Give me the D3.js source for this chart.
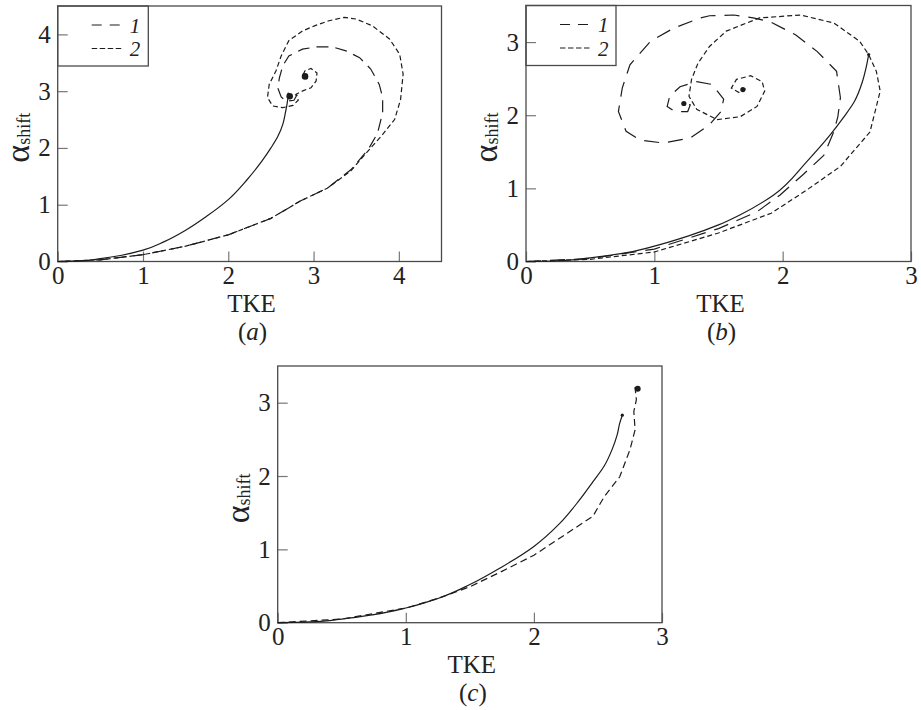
<!DOCTYPE html>
<html>
<head>
<meta charset="utf-8">
<script src="https://cdn.jsdelivr.net/npm/d3@7"></script>
<style>
    html, body { margin: 0; padding: 0; background: #fff; }
    svg { display: block; font-family: 'Liberation Serif', 'Times New Roman', Times, serif; }
</style>
</head>
<body>
<script>
// values, [TKE, alpha_shift]
var aSolid = [[0, 0], [0.25, 0.01], [0.5, 0.05], [0.75, 0.11], [1.0, 0.20], [1.25, 0.35], [1.5, 0.55],
    [1.75, 0.80], [2.0, 1.09], [2.22, 1.44], [2.40, 1.78], [2.50, 2.00], [2.58, 2.20], [2.64, 2.42],
    [2.67, 2.62], [2.69, 2.78], [2.70, 2.87], [2.72, 2.91]];
var aCurve1 = [[0, 0], [0.5, 0.03], [1.0, 0.12], [1.5, 0.27], [2.0, 0.47], [2.5, 0.76], [2.85, 1.07],
    [3.16, 1.29], [3.44, 1.62], [3.64, 1.97], [3.75, 2.26], [3.81, 2.62], [3.81, 2.89], [3.77, 3.12],
    [3.67, 3.39], [3.54, 3.59], [3.38, 3.71], [3.22, 3.78], [3.03, 3.78], [2.87, 3.74], [2.71, 3.62],
    [2.64, 3.45], [2.60, 3.24], [2.58, 3.06], [2.62, 2.90], [2.68, 2.82], [2.77, 2.84], [2.80, 2.92],
    [2.76, 2.98], [2.70, 2.96], [2.70, 2.91], [2.72, 2.91]];
var aCurve2 = [[0, 0], [0.5, 0.03], [1.0, 0.12], [1.5, 0.27], [2.0, 0.47], [2.5, 0.76], [2.85, 1.07],
    [3.16, 1.29], [3.44, 1.60], [3.64, 1.95], [3.79, 2.20], [3.95, 2.50], [4.02, 2.85], [4.05, 3.30],
    [4.01, 3.65], [3.89, 3.92], [3.69, 4.15], [3.50, 4.27], [3.36, 4.30], [3.18, 4.24], [3.01, 4.15],
    [2.87, 4.06], [2.71, 3.89], [2.62, 3.62], [2.56, 3.36], [2.48, 3.12], [2.46, 2.89], [2.52, 2.74],
    [2.64, 2.71], [2.76, 2.75], [2.82, 2.84], [2.80, 2.95], [2.88, 3.01], [2.97, 3.06], [3.03, 3.18],
    [3.04, 3.32], [2.97, 3.40], [2.90, 3.36], [2.87, 3.27], [2.92, 3.22], [2.94, 3.28], [2.90, 3.26]];
var aBlobs = [[2.90, 3.26], [2.72, 2.91]];
var aTicksX = [0, 1, 2, 3, 4];
var aTicksY = [0, 1, 2, 3, 4];

var bSolid = [[0, 0], [0.25, 0.01], [0.5, 0.05], [0.75, 0.11], [1.0, 0.21], [1.25, 0.34], [1.5, 0.50],
    [1.67, 0.64], [1.93, 0.91], [2.19, 1.37], [2.37, 1.73], [2.47, 1.96], [2.56, 2.19], [2.62, 2.45],
    [2.65, 2.65], [2.67, 2.83]];
var bCurve1 = [[0, 0], [0.5, 0.04], [1.0, 0.17], [1.5, 0.45], [1.80, 0.68], [1.98, 0.91], [2.16, 1.19],
    [2.32, 1.45], [2.40, 1.78], [2.43, 1.98], [2.45, 2.24], [2.42, 2.60], [2.27, 2.87], [2.10, 3.10],
    [1.90, 3.28], [1.77, 3.33], [1.62, 3.37], [1.43, 3.36], [1.36, 3.33], [1.15, 3.19], [0.97, 3.01],
    [0.81, 2.69], [0.75, 2.37], [0.72, 2.05], [0.78, 1.78], [0.89, 1.66], [1.07, 1.62], [1.28, 1.69],
    [1.43, 1.87], [1.52, 2.05], [1.54, 2.22], [1.45, 2.42], [1.33, 2.46], [1.20, 2.39], [1.12, 2.26],
    [1.10, 2.12], [1.16, 2.05], [1.26, 2.05], [1.28, 2.14], [1.22, 2.17], [1.24, 2.16]];
var bCurve2 = [[0, 0], [0.5, 0.03], [1.0, 0.13], [1.5, 0.39], [1.91, 0.66], [2.19, 0.98], [2.45, 1.30],
    [2.68, 1.77], [2.72, 2.05], [2.76, 2.33], [2.73, 2.60], [2.67, 2.83], [2.60, 3.01], [2.40, 3.26],
    [2.14, 3.37], [1.82, 3.33], [1.56, 3.15], [1.43, 2.94], [1.34, 2.71], [1.29, 2.49], [1.27, 2.26],
    [1.33, 2.08], [1.49, 1.94], [1.67, 1.98], [1.80, 2.12], [1.86, 2.33], [1.84, 2.46], [1.75, 2.54],
    [1.64, 2.49], [1.60, 2.37], [1.66, 2.31], [1.71, 2.36], [1.69, 2.35]];
var bBlobs = [[1.69, 2.35], [1.23, 2.16]];
var bTicksX = [0, 1, 2, 3];
var bTicksY = [0, 1, 2, 3];

var cSolid = [[0, 0], [0.25, 0.01], [0.5, 0.05], [0.75, 0.11], [1.0, 0.20], [1.25, 0.33], [1.5, 0.52],
    [1.75, 0.76], [2.0, 1.04], [2.2, 1.35], [2.35, 1.66], [2.46, 1.92], [2.55, 2.14], [2.61, 2.36],
    [2.65, 2.56], [2.67, 2.72], [2.69, 2.83]];
var cCurve = [[0, 0], [0.5, 0.05], [1.0, 0.20], [1.25, 0.33], [1.5, 0.49], [1.75, 0.70], [2.0, 0.92],
    [2.26, 1.22], [2.46, 1.45], [2.55, 1.72], [2.67, 1.99], [2.75, 2.36], [2.79, 2.63], [2.78, 2.88],
    [2.80, 3.04], [2.79, 3.20], [2.81, 3.18]];
var cBlobs = [[2.81, 3.19]];
var cTicksX = [0, 1, 2, 3];
var cTicksY = [0, 1, 2, 3];

var legendLabels = ['1', '2'];

var ink = '#1c1c1c',
    frameColor = '#4a4a4a',
    longDash = '12,7',
    shortDash = '5,3';

var svg = d3.select('body').append('svg')
    .attr('width', 921)
    .attr('height', 710);

svg.append('rect').attr('width', 921).attr('height', 710).attr('fill', '#fff');

function drawPanel(p) {
    var g = svg.append('g'),
        x = d3.scaleLinear().domain(p.xDomain).range([p.left, p.right]),
        y = d3.scaleLinear().domain(p.yDomain).range([p.bottom, p.top]);

    var xAxis = g.append('g')
        .attr('transform', 'translate(0,' + p.bottom + ')')
        .call(d3.axisBottom(x).tickValues(p.xTicks).tickFormat(d3.format('d'))
            .tickSizeInner(-10).tickSizeOuter(0).tickPadding(5));
    var yAxis = g.append('g')
        .attr('transform', 'translate(' + p.left + ',0)')
        .call(d3.axisLeft(y).tickValues(p.yTicks).tickFormat(d3.format('d'))
            .tickSizeInner(-10).tickSizeOuter(0).tickPadding(7));

    [xAxis, yAxis].forEach(function(ax) {
        ax.select('.domain').remove();
        ax.selectAll('.tick line').attr('stroke', '#777').attr('stroke-width', 1.2);
        ax.selectAll('.tick text')
            .attr('fill', '#222')
            .style('font-family', "'Liberation Serif', 'Times New Roman', Times, serif")
            .style('font-size', '25px');
    });

    g.append('rect')
        .attr('x', p.left)
        .attr('y', p.top)
        .attr('width', p.right - p.left)
        .attr('height', p.bottom - p.top)
        .attr('fill', 'none')
        .attr('stroke', frameColor)
        .attr('stroke-width', 1.3);

    var line = d3.line()
        .x(function(d) { return x(d[0]); })
        .y(function(d) { return y(d[1]); });

    p.series.forEach(function(s) {
        g.append('path')
            .datum(s.data)
            .attr('d', line.curve(s.dash ? d3.curveLinear : d3.curveMonotoneY)(s.data))
            .attr('fill', 'none')
            .attr('stroke', ink)
            .attr('stroke-width', 1.2)
            .attr('stroke-dasharray', s.dash || null);
    });

    // dense ends of the spirals
    g.selectAll('circle.blob')
        .data(p.blobs)
        .enter()
        .append('circle')
            .attr('cx', function(d) { return x(d[0]); })
            .attr('cy', function(d) { return y(d[1]); })
            .attr('r', p.blobR)
            .attr('fill', ink);

    var last = p.series[0].data[p.series[0].data.length - 1];
    g.append('circle')
        .attr('cx', x(last[0]))
        .attr('cy', y(last[1]))
        .attr('r', 1.6)
        .attr('fill', ink);

    var cx = (p.left + p.right) / 2;
    g.append('text')
        .attr('x', cx + 2)
        .attr('y', p.bottom + 50)
        .attr('text-anchor', 'middle')
        .attr('fill', '#222')
        .style('font-size', '25px')
        .text('TKE');

    var cap = g.append('text')
        .attr('x', cx + 3)
        .attr('y', p.bottom + 78)
        .attr('text-anchor', 'middle')
        .attr('fill', '#222')
        .style('font-size', '25px');
    cap.append('tspan').text('(');
    cap.append('tspan').style('font-style', 'italic').text(p.tag);
    cap.append('tspan').text(')');

    var yl = g.append('text')
        .attr('transform', 'translate(' + (p.left - 29) + ',' + ((p.top + p.bottom) / 2 + 4) + ') rotate(-90)')
        .attr('text-anchor', 'middle')
        .attr('fill', '#222');
    yl.append('tspan').style('font-size', '34px').text('α');
    yl.append('tspan').style('font-size', '18px').attr('dy', 1).text('shift');

    if (p.legend) {
        var lg = g.append('g').attr('transform', 'translate(' + p.left + ',' + p.top + ')');
        lg.append('rect')
            .attr('width', p.legend)
            .attr('height', 60)
            .attr('fill', 'none')
            .attr('stroke', frameColor)
            .attr('stroke-width', 1.3);
        var rows = lg.selectAll('g.row')
            .data(legendLabels)
            .enter()
            .append('g')
                .attr('transform', function(d, i) { return 'translate(0,' + (19 + i * 23.5) + ')'; });
        rows.append('line')
            .attr('x1', 34)
            .attr('x2', 64)
            .attr('stroke', ink)
            .attr('stroke-width', 1.2)
            .attr('stroke-dasharray', function(d, i) { return i === 0 ? '10,8' : '5.5,2.5'; });
        rows.append('text')
            .attr('x', 72)
            .attr('y', 7.5)
            .attr('fill', '#222')
            .style('font-size', '21px')
            .style('font-style', 'italic')
            .text(function(d) { return d; });
    }
}

drawPanel({
    tag: 'a', left: 57.7, right: 441.5, top: 6, bottom: 261.5,
    xDomain: [0, 4.5], yDomain: [0, 4.5], xTicks: aTicksX, yTicks: aTicksY, legend: 90.6,
    series: [{data: aSolid}, {data: aCurve1, dash: longDash}, {data: aCurve2, dash: shortDash}],
    blobs: aBlobs, blobR: 3.3
});

drawPanel({
    tag: 'b', left: 526, right: 911, top: 5.5, bottom: 261.5,
    xDomain: [0, 3], yDomain: [0, 3.5], xTicks: bTicksX, yTicks: bTicksY, legend: 90,
    series: [{data: bSolid}, {data: bCurve1, dash: '15,9'}, {data: bCurve2, dash: shortDash}],
    blobs: bBlobs, blobR: 2.6
});

drawPanel({
    tag: 'c', left: 277.7, right: 662, top: 366, bottom: 622.7,
    xDomain: [0, 3], yDomain: [0, 3.5], xTicks: cTicksX, yTicks: cTicksY, legend: 0,
    series: [{data: cSolid}, {data: cCurve, dash: '7,4'}],
    blobs: cBlobs, blobR: 3
});
</script>
</body>
</html>
